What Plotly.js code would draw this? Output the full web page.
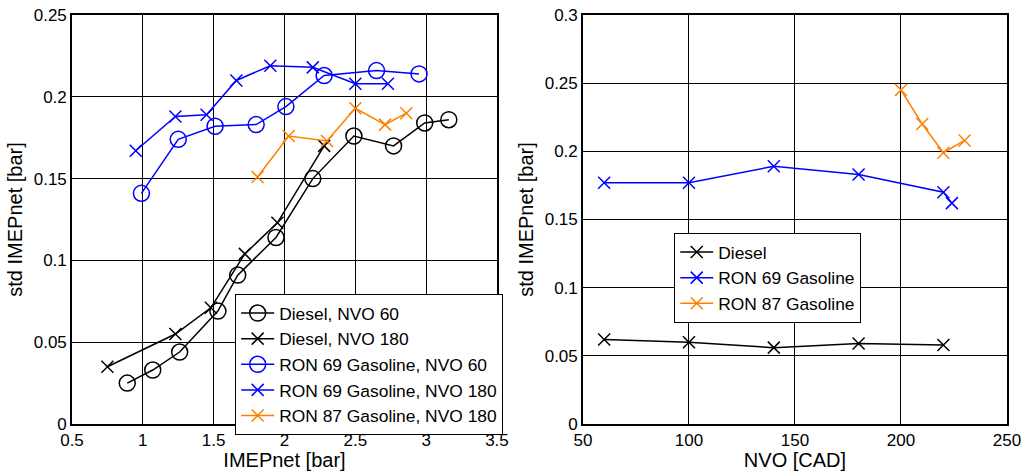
<!DOCTYPE html>
<html>
<head>
<meta charset="utf-8">
<script src="https://cdn.plot.ly/plotly-3.0.1.min.js"></script>
<style>
  html, body { margin: 0; padding: 0; background: #fff; }
  #chart { width: 1032px; height: 471px; }
</style>
</head>
<body>
<div id="chart"></div>
<script>
// Left panel: std of IMEPnet against IMEPnet
const imepDieselNvo60 = [0.89, 1.07, 1.26, 1.53, 1.67, 1.94, 2.20, 2.49, 2.77, 2.99, 3.16];
const stdDieselNvo60 = [0.025, 0.033, 0.044, 0.069, 0.091, 0.114, 0.150, 0.176, 0.170, 0.184, 0.186];
const imepDieselNvo180 = [0.75, 1.23, 1.48, 1.72, 1.95, 2.28];
const stdDieselNvo180 = [0.035, 0.055, 0.071, 0.104, 0.123, 0.170];
const imepRon69Nvo60 = [0.99, 1.25, 1.51, 1.80, 2.01, 2.28, 2.65, 2.95];
const stdRon69Nvo60 = [0.141, 0.174, 0.182, 0.183, 0.194, 0.213, 0.216, 0.214];
const imepRon69Nvo180 = [0.95, 1.23, 1.45, 1.66, 1.90, 2.20, 2.50, 2.73];
const stdRon69Nvo180 = [0.167, 0.188, 0.189, 0.210, 0.219, 0.218, 0.208, 0.208];
const imepRon87Nvo180 = [1.81, 2.03, 2.30, 2.50, 2.71, 2.86];
const stdRon87Nvo180 = [0.151, 0.176, 0.173, 0.193, 0.183, 0.190];

// Right panel: std of IMEPnet against NVO
const nvoDiesel = [60, 100, 140, 180, 220];
const stdDiesel = [0.062, 0.060, 0.056, 0.059, 0.058];
const nvoRon69 = [60, 100, 140, 180, 220, 224];
const stdRon69 = [0.177, 0.177, 0.189, 0.183, 0.170, 0.162];
const nvoRon87 = [200, 210, 220, 230];
const stdRon87 = [0.245, 0.220, 0.199, 0.208];

// Tick values and labels
const imepTicks = [0.5, 1, 1.5, 2, 2.5, 3, 3.5];
const imepTickText = ['0.5', '1', '1.5', '2', '2.5', '3', '3.5'];
const stdTicksLeft = [0, 0.05, 0.1, 0.15, 0.2, 0.25];
const stdTickTextLeft = ['0', '0.05', '0.1', '0.15', '0.2', '0.25'];
const nvoTicks = [50, 100, 150, 200, 250];
const nvoTickText = ['50', '100', '150', '200', '250'];
const stdTicksRight = [0, 0.05, 0.1, 0.15, 0.2, 0.25, 0.3];
const stdTickTextRight = ['0', '0.05', '0.1', '0.15', '0.2', '0.25', '0.3'];

const BLACK = '#000000';
const BLUE = '#0000ff';
const ORANGE = '#ff8000';
const FONT = 'Liberation Sans, Arial, sans-serif';

function series(x, y, name, color, symbol, size, xa, ya, legend) {
  return {
    type: 'scatter', mode: 'lines+markers',
    x: x, y: y, name: name, xaxis: xa, yaxis: ya, legend: legend,
    line: { color: color, width: 1.5 },
    marker: { symbol: symbol, size: size, color: color, line: { color: color, width: 1.5 } },
    cliponaxis: false
  };
}

const traces = [
  series(imepDieselNvo60, stdDieselNvo60, 'Diesel, NVO 60', BLACK, 'circle-open', 16, 'x', 'y', 'legend'),
  series(imepDieselNvo180, stdDieselNvo180, 'Diesel, NVO 180', BLACK, 'x-thin-open', 12, 'x', 'y', 'legend'),
  series(imepRon69Nvo60, stdRon69Nvo60, 'RON 69 Gasoline, NVO 60', BLUE, 'circle-open', 16, 'x', 'y', 'legend'),
  series(imepRon69Nvo180, stdRon69Nvo180, 'RON 69 Gasoline, NVO 180', BLUE, 'x-thin-open', 12, 'x', 'y', 'legend'),
  series(imepRon87Nvo180, stdRon87Nvo180, 'RON 87 Gasoline, NVO 180', ORANGE, 'x-thin-open', 12, 'x', 'y', 'legend'),
  series(nvoDiesel, stdDiesel, 'Diesel', BLACK, 'x-thin-open', 12, 'x2', 'y2', 'legend2'),
  series(nvoRon69, stdRon69, 'RON 69 Gasoline', BLUE, 'x-thin-open', 12, 'x2', 'y2', 'legend2'),
  series(nvoRon87, stdRon87, 'RON 87 Gasoline', ORANGE, 'x-thin-open', 12, 'x2', 'y2', 'legend2')
];

function axis(extra) {
  return Object.assign({
    showgrid: true, gridcolor: '#000000', gridwidth: 1,
    zeroline: false,
    showline: true, linecolor: '#000000', linewidth: 1.8, mirror: 'allticks',
    ticks: 'inside', ticklen: 5, tickcolor: '#000000', tickwidth: 1,
    tickmode: 'array',
    tickfont: { family: FONT, size: 17, color: '#000000' },
    fixedrange: true
  }, extra);
}

const TITLE_FONT = { family: FONT, size: 20, color: '#000000' };

const legendStyle = {
  bgcolor: '#ffffff', bordercolor: '#000000', borderwidth: 1.2,
  font: { family: FONT, size: 17.4, color: '#000000' },
  xref: 'paper', yref: 'paper', xanchor: 'left', yanchor: 'top',
  itemwidth: 33, tracegroupgap: 0
};

const layout = {
  width: 1032, height: 471,
  margin: { l: 72, r: 25, t: 15, b: 47 },
  paper_bgcolor: '#ffffff', plot_bgcolor: '#ffffff',
  font: { family: FONT, color: '#000000' },
  showlegend: true,
  xaxis: axis({
    domain: [0, 0.4545], range: [0.5, 3.5], anchor: 'y',
    tickvals: imepTicks, ticktext: imepTickText,
    title: { text: 'IMEPnet [bar]', font: TITLE_FONT, standoff: 0 }
  }),
  yaxis: axis({
    domain: [0, 1], range: [0, 0.25], anchor: 'x',
    tickvals: stdTicksLeft, ticktext: stdTickTextLeft,
    title: { text: 'std IMEPnet [bar]', font: TITLE_FONT, standoff: 6 }
  }),
  xaxis2: axis({
    domain: [0.5465, 1], range: [50, 250], anchor: 'y2',
    tickvals: nvoTicks, ticktext: nvoTickText,
    title: { text: 'NVO [CAD]', font: TITLE_FONT, standoff: 0 }
  }),
  yaxis2: axis({
    domain: [0, 1], range: [0, 0.3], anchor: 'x2',
    tickvals: stdTicksRight, ticktext: stdTickTextRight,
    title: { text: 'std IMEPnet [bar]', font: TITLE_FONT, standoff: 6 }
  }),
  legend: Object.assign({}, legendStyle, { x: 0.1743, y: 0.3178 }),
  legend2: Object.assign({}, legendStyle, { x: 0.6439, y: 0.467 })
};

Plotly.newPlot('chart', traces, layout, { staticPlot: true, displayModeBar: false });
</script>
</body>
</html>
